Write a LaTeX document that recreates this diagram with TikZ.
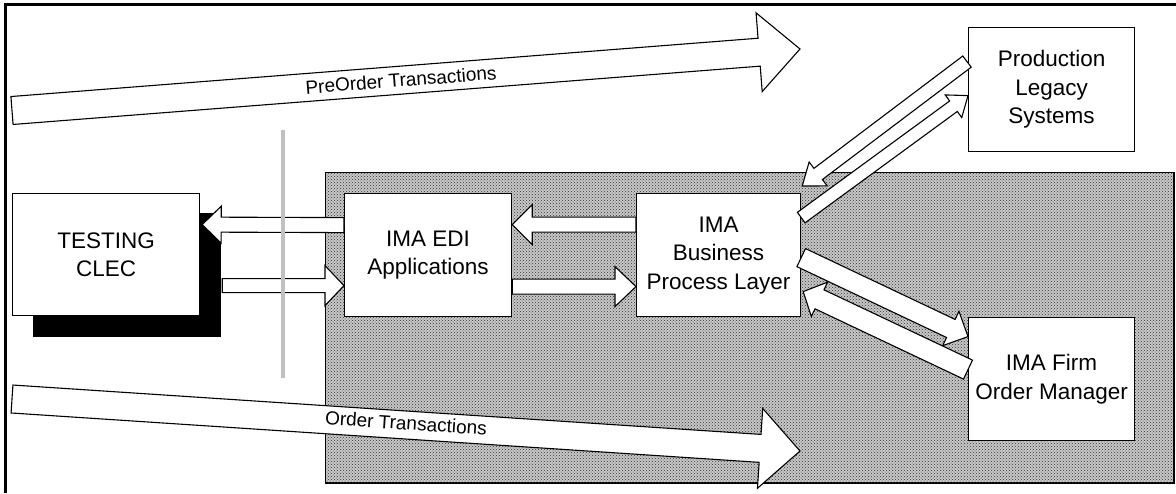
\documentclass[tikz,border=0pt]{standalone}
\usepackage{fontspec}
\setmainfont{Liberation Sans}
\usetikzlibrary{calc,patterns}
\definecolor{areagray}{RGB}{200,200,200}
\definecolor{linegray}{RGB}{192,192,192}
\tikzset{
  frameline/.style={line width=3pt, draw=black},
  area/.style={draw=black, fill=areagray, line width=1pt, anchor=north west, inner sep=0pt},
  areadots/.style={pattern=crosshatch dots, pattern color=black!80},
  shadowbox/.style={fill=black, draw=none, anchor=north west, inner sep=0pt},
  box/.style={draw=black, fill=white, line width=1.2pt, anchor=north west, inner sep=0pt,
    align=center, font=\fontsize{22.5pt}{28.5pt}\selectfont},
  blockarrow/.style={draw=black, fill=white, line width=1.1pt, line join=miter},
  lbl/.style={font=\fontsize{19pt}{21pt}\selectfont, inner sep=0pt},
  sepline/.style={draw=linegray, line width=4.5pt}
}
% #1 start, #2 end, #3 shaft half width, #4 head half width, #5 head length
\newcommand{\blockarr}[5]{%
  \coordinate (ba-s) at #1;
  \coordinate (ba-e) at #2;
  \coordinate (ba-h) at ($(ba-e)!#5!(ba-s)$);
  \filldraw[blockarrow] ($(ba-s)!#3!90:(ba-e)$) -- ($(ba-h)!#3!-90:(ba-s)$)
    -- ($(ba-h)!#4!-90:(ba-s)$) -- (ba-e) -- ($(ba-h)!#4!90:(ba-s)$)
    -- ($(ba-h)!#3!90:(ba-s)$) -- ($(ba-s)!#3!-90:(ba-e)$) -- cycle;
}
\begin{document}
\begin{tikzpicture}[x=1pt,y=-1pt]
\useasboundingbox (0,0) rectangle (1176,493);
\draw[frameline] (5,493) -- (5,4.5) -- (1176,4.5);

% IMA area
\node[area, minimum width=848pt, minimum height=310pt] (imaarea) at (325,172) {};
\fill[areadots] (imaarea.north west) rectangle (imaarea.south east);
\draw[line width=1pt] (imaarea.north west) rectangle (imaarea.south east);

% PreOrder transactions
\coordinate (pre-s) at (12,110.5);
\coordinate (pre-e) at (800,49);
\blockarr{(pre-s)}{(pre-e)}{14pt}{39.5pt}{41pt}
\node[lbl, rotate=4.46] (prelbl) at (401,80) {PreOrder Transactions};

% Order transactions
\coordinate (ord-s) at (12,399);
\coordinate (ord-e) at (800,451);
\blockarr{(ord-s)}{(ord-e)}{14pt}{40pt}{40pt}
\node[lbl, rotate=-3.75] (ordlbl) at (406,423) {Order Transactions};

% boxes
\node[shadowbox, minimum width=188pt, minimum height=124pt] (shadow) at (33,213) {};
\node[box, minimum width=187pt, minimum height=122pt] (testing) at (12,193) {TESTING\\CLEC};
\node[box, minimum width=167pt, minimum height=123pt] (edi) at (344,193) {IMA EDI\\Applications};
\node[box, minimum width=164pt, minimum height=123pt] (bpl) at (636,193) {IMA\\Business\\Process Layer};
\node[box, minimum width=166pt, minimum height=124pt] (prod) at (968,27) {Production\\Legacy\\Systems};
\node[box, minimum width=166pt, minimum height=123pt] (firm) at (968,317) {IMA Firm\\Order Manager};

% horizontal arrows
\blockarr{([yshift=30pt]edi.west)}{([yshift=30pt,xshift=2pt]testing.east)}{7.5pt}{18.5pt}{19pt}
\blockarr{([xshift=22pt,yshift=-31pt]testing.east)}{([yshift=-30.5pt]edi.west)}{7pt}{20pt}{19pt}
\blockarr{([yshift=30.5pt]bpl.west)}{([yshift=30.5pt]edi.east)}{7.5pt}{20pt}{20pt}
\blockarr{([yshift=-31.5pt]edi.east)}{([yshift=-31.5pt]bpl.west)}{7.5pt}{20pt}{21pt}

% diagonal arrows
\blockarr{([yshift=28pt,xshift=-1pt]prod.west)}{([yshift=7pt,xshift=1pt]bpl.north east)}{7pt}{15pt}{20pt}
\blockarr{([yshift=37.5pt]bpl.east)}{([yshift=-6pt]prod.west)}{6.5pt}{14pt}{18pt}
\blockarr{([yshift=-2.5pt]bpl.east)}{([yshift=42.5pt]firm.west)}{10pt}{19pt}{19pt}
\blockarr{([yshift=9.5pt]firm.west)}{([yshift=-36.5pt,xshift=2pt]bpl.east)}{10.5pt}{19pt}{18pt}

% separator
\coordinate (sep-top) at (283,130);
\coordinate (sep-bot) at (283,378);
\draw[sepline] (sep-top) -- (sep-bot);
\end{tikzpicture}
\end{document}
